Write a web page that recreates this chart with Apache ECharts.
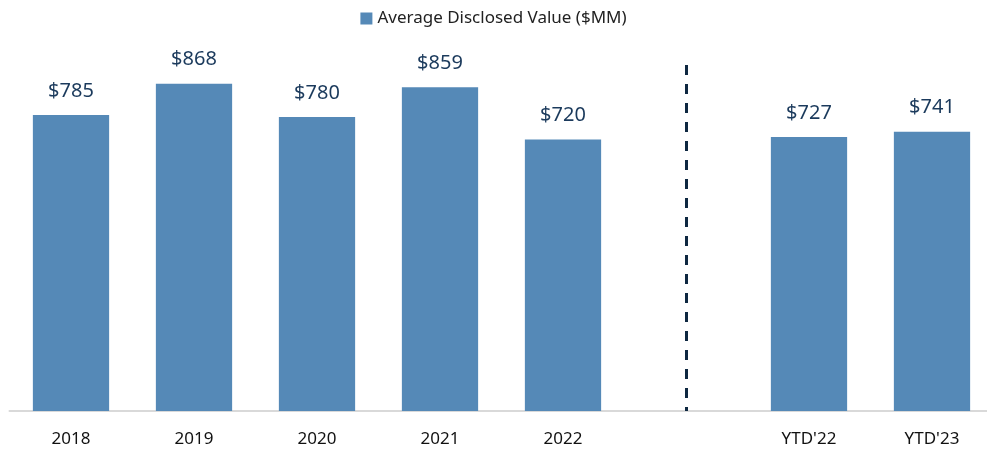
<!DOCTYPE html>
<html>
<head>
<meta charset="utf-8">
<script src="https://cdn.jsdelivr.net/npm/echarts@6/dist/echarts.min.js"></script>
<style>
  html, body { margin: 0; padding: 0; background: #fff; }
  #chart { width: 987px; height: 450px; }
</style>
</head>
<body>
<div id="chart"></div>
<script>
// categories, with an empty slot where the divider sits
const categories = ["2018", "2019", "2020", "2021", "2022", " ", "YTD'22", "YTD'23"];
const avgValues = [785, 868, 780, 859, 720, null, 727, 741];
const seriesName = "Average Disclosed Value ($MM)";
// divider runs from this value down to the axis
const dividerTop = 918;

const chart = echarts.init(document.getElementById("chart"));

chart.setOption({
  animation: false,
  textStyle: { fontFamily: "Noto Sans" },
  legend: {
    top: 5,
    left: "center",
    itemWidth: 12,
    itemHeight: 12,
    itemGap: 5,
    icon: "rect",
    data: [seriesName],
    textStyle: { color: "#222", fontSize: 17, fontFamily: "Noto Sans" }
  },
  grid: {
    left: 9.5,
    width: 984,
    top: 34,
    bottom: 39,
    containLabel: false,
    outerBoundsMode: "none"
  },
  xAxis: {
    type: "category",
    data: categories,
    axisLine: { lineStyle: { color: "#d9d9d9", width: 2 } },
    axisTick: { show: false },
    axisLabel: {
      color: "#111",
      fontSize: 17,
      margin: 20,
      fontFamily: "Noto Sans"
    }
  },
  yAxis: {
    type: "value",
    min: 0,
    max: 1000,
    show: false,
    splitLine: { show: false }
  },
  series: [
    {
      name: seriesName,
      type: "bar",
      data: avgValues,
      barCategoryGap: "38%",
      itemStyle: { color: "#5589b7" },
      label: {
        show: true,
        position: "top",
        distance: 14,
        color: "#1b3a5c",
        fontSize: 20,
        fontFamily: "Noto Sans",
        formatter: p => "$" + p.value
      },
      markLine: {
        silent: true,
        symbol: "none",
        label: { show: false },
        lineStyle: { color: "#0e2841", type: [10, 9], width: 3 },
        data: [
          [
            { coord: [" ", dividerTop] },
            { coord: [" ", 0] }
          ]
        ]
      }
    }
  ]
});
</script>
</body>
</html>
